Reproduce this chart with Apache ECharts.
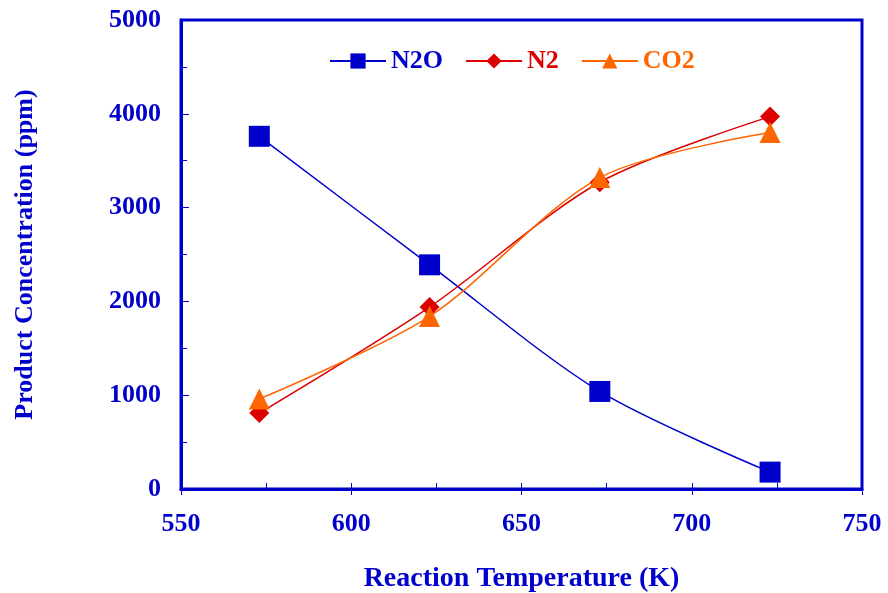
<!DOCTYPE html>
<html>
<head>
<meta charset="utf-8">
<title>Product Concentration</title>
<script src="https://cdn.jsdelivr.net/npm/echarts@6/dist/echarts.min.js"></script>
<style>
  html, body { margin: 0; padding: 0; background: #fff; }
  #chart { width: 888px; height: 593px; }
</style>
</head>
<body>
<div id="chart"></div>
<script>
  // 温度 (K)
  var temps = [573, 623, 673, 723];
  var n2o = [3760, 2390, 1040, 180];
  var n2 = [810, 1940, 3270, 3970];
  var co2 = [960, 1840, 3320, 3800];

  var BLUE = '#0000CC', RED = '#DD0000', ORANGE = '#FF6600';
  var FONT = 'Liberation Serif';

  function pairs(ys) {
    return temps.map(function (t, i) { return [t, ys[i]]; });
  }

  var chart = echarts.init(document.getElementById('chart'));
  chart.setOption({
    animation: false,
    textStyle: { fontFamily: FONT },
    grid: {
      left: 181, right: 26, top: 20, bottom: 104,
      outerBoundsMode: 'none',
      show: true, borderColor: BLUE, borderWidth: 3, backgroundColor: 'transparent'
    },
    legend: {
      top: 43, left: 324,
      itemGap: 22, itemWidth: 56, itemHeight: 19,
      textStyle: { fontFamily: FONT, fontWeight: 'bold', fontSize: 26, color: 'inherit' },
      data: ['N2O', 'N2', 'CO2']
    },
    xAxis: [{
      type: 'value', min: 550, max: 750, interval: 50,
      name: 'Reaction Temperature (K)', nameLocation: 'middle', nameGap: 76,
      nameTextStyle: { color: BLUE, fontFamily: FONT, fontWeight: 'bold', fontSize: 28 },
      axisLine: { lineStyle: { color: BLUE, width: 3 } },
      axisTick: { inside: true, length: 6, lineStyle: { color: BLUE, width: 1 } },
      minorTick: { show: true, splitNumber: 2, length: 6, lineStyle: { color: BLUE, width: 1 } },
      axisLabel: { color: BLUE, fontFamily: FONT, fontWeight: 'bold', fontSize: 26, margin: 22,
        formatter: function (v) { return String(v); } },
      splitLine: { show: false }
    }, {
      type: 'value', min: 550, max: 750, interval: 50, position: 'bottom',
      axisLine: { show: false },
      axisTick: { inside: false, length: 6, lineStyle: { color: BLUE, width: 1 } },
      axisLabel: { show: false },
      splitLine: { show: false }
    }],
    yAxis: {
      type: 'value', min: 0, max: 5000, interval: 1000,
      name: 'Product Concentration (ppm)', nameLocation: 'middle', nameGap: 143,
      nameTextStyle: { color: BLUE, fontFamily: FONT, fontWeight: 'bold', fontSize: 26 },
      axisLine: { lineStyle: { color: BLUE, width: 3 } },
      axisTick: { inside: true, length: 8, lineStyle: { color: BLUE, width: 1 } },
      minorTick: { show: true, splitNumber: 2, length: 6, lineStyle: { color: BLUE, width: 1 } },
      axisLabel: { color: BLUE, fontFamily: FONT, fontWeight: 'bold', fontSize: 26, margin: 20,
        formatter: function (v) { return String(v); } },
      splitLine: { show: false }
    },
    series: [{
      name: 'N2O', type: 'line', smooth: 0.3,
      data: pairs(n2o),
      symbol: 'rect', symbolSize: 21,
      lineStyle: { color: BLUE, width: 1.5 },
      itemStyle: { color: BLUE }
    }, {
      name: 'N2', type: 'line', smooth: 0.3,
      data: pairs(n2),
      symbol: 'diamond', symbolSize: 20,
      lineStyle: { color: RED, width: 1.5 },
      itemStyle: { color: RED }
    }, {
      name: 'CO2', type: 'line', smooth: 0.3,
      data: pairs(co2),
      symbol: 'triangle', symbolSize: 21,
      lineStyle: { color: ORANGE, width: 1.5 },
      itemStyle: { color: ORANGE }
    }]
  });
</script>
</body>
</html>
